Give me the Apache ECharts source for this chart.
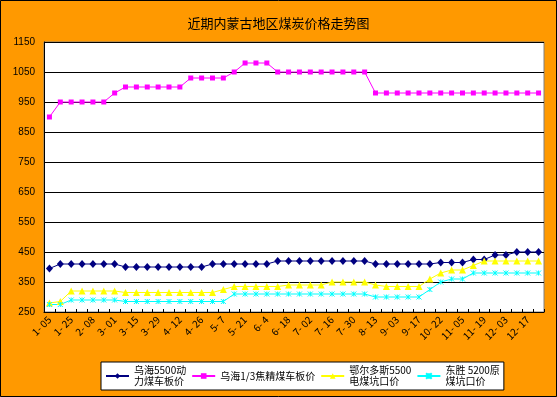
<!DOCTYPE html>
<html>
<head>
<meta charset="utf-8">
<script src="https://cdn.jsdelivr.net/npm/echarts@6/dist/echarts.min.js"></script>
<style>
html,body{margin:0;padding:0;}
#main{width:557px;height:397px;}
</style>
</head>
<body>
<div id="main"></div>
<script>
// 日期(每隔一个显示)
var dates = ['1- 05','1- 12','1- 25','2- 01','2- 08','2- 22','3- 01','3- 08','3- 15','3- 22',
	'3- 29','4- 05','4- 12','4- 19','4- 26','4- 30','5- 7','5- 14','5- 21','5- 28',
	'6- 4','6- 11','6- 18','6- 25','7- 02','7- 09','7- 16','7- 23','7- 30','8- 06',
	'8- 13','8- 20','9- 03','9- 10','9- 17','9- 24','10- 22','10- 29','11- 05','11- 12',
	'11- 19','11- 26','12- 03','12- 10','12- 17','12- 24'];

var wuhaiPower = [395,410,410,410,410,410,410,400,400,400,400,400,400,400,400,410,410,410,410,410,
	410,420,420,420,420,420,420,420,420,420,410,410,410,410,410,410,415,415,415,425,
	425,440,440,450,450,450];
var wuhaiCoking = [900,950,950,950,950,950,980,1000,1000,1000,1000,1000,1000,1030,1030,1030,1030,1050,1080,1080,
	1080,1050,1050,1050,1050,1050,1050,1050,1050,1050,980,980,980,980,980,980,980,980,980,980,
	980,980,980,980,980,980];
var ordosCoal = [280,285,320,320,320,320,320,315,315,315,315,315,315,315,315,315,325,335,335,335,
	335,335,340,340,340,340,350,350,350,350,340,335,335,335,335,360,380,390,390,405,
	420,420,420,420,420,420];
var dongshengCoal = [275,275,290,290,290,290,290,285,285,285,285,285,285,285,285,285,285,310,310,310,
	310,310,310,310,310,310,310,310,310,310,300,300,300,300,300,325,350,360,360,380,
	380,380,380,380,380,380];

var seriesNames = ['乌海5500动力煤车板价','乌海1/3焦精煤车板价','鄂尔多斯5500电煤坑口价','东胜 5200原煤坑口价'];
var legendText = ['乌海5500动\n力煤车板价','乌海1/3焦精煤车板价','鄂尔多斯5500\n电煤坑口价','东胜 5200原\n煤坑口价'];
var yTicks = {min:250, max:1150, interval:100};

var FONT = '"Noto Sans CJK SC", sans-serif';

function lineSeries(name, data, color, symbol, size){
	return {
		name: name,
		type: 'line',
		data: data,
		symbol: symbol,
		symbolSize: size,
		showSymbol: true,
		showAllSymbol: true,
		lineStyle: {color: color, width: 1},
		itemStyle: {color: color, borderColor: color, borderWidth: symbol.indexOf('path') === 0 ? 1 : 0},
		animation: false
	};
}

var chart = echarts.init(document.getElementById('main'));
var option = {
	backgroundColor: '#FF9900',
	animation: false,
	title: {
		text: '近期内蒙古地区煤炭价格走势图',
		left: 'center',
		top: 12,
		textStyle: {fontSize: 13, fontWeight: 'normal', color: '#000', fontFamily: FONT}
	},
	graphic: [{
		type: 'rect',
		silent: true,
		z: 100,
		shape: {x: 0.5, y: 0.5, width: 556, height: 396},
		style: {fill: null, stroke: '#000', lineWidth: 1}
	}],
	legend: {
		data: seriesNames,
		left: 101,
		top: 362,
		itemWidth: 23,
		itemHeight: 7,
		itemGap: 5,
		padding: [3, 4, 3, 4],
		backgroundColor: '#fff',
		borderColor: '#000',
		borderWidth: 1,
		borderRadius: 0,
		formatter: function(name){
			return legendText[seriesNames.indexOf(name)];
		},
		textStyle: {fontSize: 10, lineHeight: 11, color: '#000', fontFamily: FONT}
	},
	grid: {
		left: 44,
		right: 13,
		top: 42,
		bottom: 85,
		show: true,
		backgroundColor: '#fff',
		borderColor: '#808080',
		borderWidth: 1
	},
	xAxis: {
		type: 'category',
		data: dates,
		boundaryGap: true,
		axisLine: {lineStyle: {color: '#000', width: 1}},
		axisTick: {show: true, inside: true, length: 3, interval: 0, lineStyle: {color: '#000'}},
		axisLabel: {interval: 1, rotate: 45, fontSize: 10, color: '#000', margin: 6, fontFamily: FONT},
		splitLine: {show: false}
	},
	yAxis: {
		type: 'value',
		min: yTicks.min,
		max: yTicks.max,
		interval: yTicks.interval,
		axisLine: {show: true, lineStyle: {color: '#000', width: 1}},
		axisTick: {show: false},
		axisLabel: {
			fontSize: 10, color: '#000', margin: 9, fontFamily: '"Liberation Sans", Arial, sans-serif',
			formatter: function(value){
				return String(value);
			}
		},
		splitLine: {show: true, lineStyle: {color: '#000', width: 1}}
	},
	series: [
		lineSeries(seriesNames[0], wuhaiPower, '#000080', 'diamond', [7, 8]),
		lineSeries(seriesNames[1], wuhaiCoking, '#FF00FF', 'rect', 5),
		lineSeries(seriesNames[2], ordosCoal, '#FFFF00', 'triangle', 7),
		lineSeries(seriesNames[3], dongshengCoal, '#00FFFF', 'path://M0,0L10,10M10,0L0,10M5,0L5,10', 5)
	]
};
chart.setOption(option);
</script>
</body>
</html>
